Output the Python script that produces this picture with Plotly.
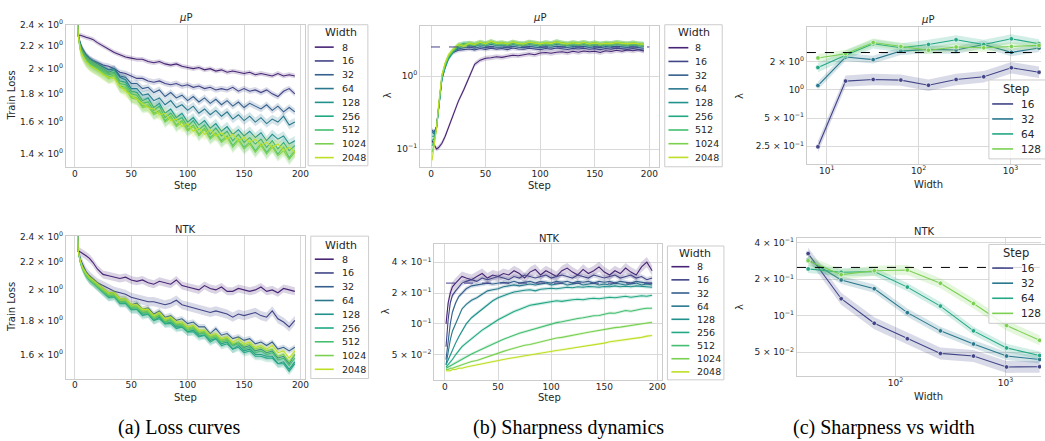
import plotly.graph_objects as go

W, H = 1045, 441

# ---------------- data ----------------
STEPS = [1, 3, 5, 7, 10, 13, 16, 20,
         25, 30, 35, 40, 45, 50, 55,
         60, 65, 70, 75, 80, 85, 90,
         95, 100, 105, 110, 115, 120, 125,
         130, 135, 140, 145, 150, 155, 160,
         165, 170, 175, 180, 185, 190, 195]
WIDTHS = [8, 16, 32, 64, 128, 256, 512, 1024, 2048]

# (a) top: muP train loss, one list per width
LOSS_MUP = [
    [2.90, 2.30, 2.30, 2.29, 2.28, 2.27, 2.26, 2.23,
     2.20, 2.17, 2.14, 2.12, 2.10, 2.09, 2.08,
     2.08, 2.06, 2.05, 2.06, 2.04, 2.03, 2.04,
     2.02, 2.01, 2.00, 2.01, 1.99, 2.00, 1.98,
     1.99, 1.97, 1.98, 1.97, 1.96, 1.97, 1.95,
     1.96, 1.95, 1.94, 1.96, 1.94, 1.95, 1.94],
    [2.90, 2.30, 2.22, 2.17, 2.12, 2.09, 2.07, 2.05,
     2.03, 2.02, 2.00, 1.97, 1.96, 1.94, 1.92,
     1.92, 1.90, 1.89, 1.90, 1.88, 1.87, 1.88,
     1.86, 1.87, 1.85, 1.86, 1.84, 1.85, 1.83,
     1.84, 1.83, 1.85, 1.82, 1.84, 1.82, 1.83,
     1.81, 1.83, 1.80, 1.78, 1.82, 1.84, 1.80],
    [2.90, 2.30, 2.21, 2.16, 2.11, 2.08, 2.06, 2.04,
     2.02, 1.99, 2.00, 1.94, 1.93, 1.88, 1.88,
     1.84, 1.85, 1.81, 1.83, 1.78, 1.81, 1.77,
     1.79, 1.75, 1.78, 1.74, 1.77, 1.73, 1.76,
     1.72, 1.75, 1.71, 1.74, 1.70, 1.73, 1.71,
     1.69, 1.72, 1.68, 1.71, 1.67, 1.70, 1.67],
    [2.90, 2.30, 2.20, 2.15, 2.10, 2.07, 2.05, 2.03,
     2.00, 1.97, 1.99, 1.93, 1.91, 1.84, 1.84,
     1.79, 1.80, 1.75, 1.77, 1.72, 1.75, 1.70,
     1.72, 1.68, 1.71, 1.66, 1.69, 1.65, 1.68,
     1.64, 1.67, 1.62, 1.65, 1.61, 1.64, 1.60,
     1.63, 1.59, 1.62, 1.60, 1.64, 1.58, 1.60],
    [2.90, 2.30, 2.19, 2.14, 2.09, 2.06, 2.04, 2.02,
     1.99, 1.96, 1.97, 1.90, 1.89, 1.82, 1.81,
     1.75, 1.77, 1.70, 1.73, 1.66, 1.69, 1.63,
     1.66, 1.60, 1.63, 1.58, 1.61, 1.56, 1.59,
     1.54, 1.57, 1.52, 1.55, 1.51, 1.54, 1.50,
     1.53, 1.48, 1.52, 1.49, 1.51, 1.46, 1.48],
    [2.90, 2.30, 2.18, 2.13, 2.08, 2.05, 2.03, 2.01,
     1.98, 1.95, 1.96, 1.88, 1.87, 1.80, 1.79,
     1.73, 1.74, 1.68, 1.71, 1.63, 1.66, 1.61,
     1.63, 1.57, 1.61, 1.55, 1.58, 1.52, 1.56,
     1.51, 1.54, 1.48, 1.52, 1.47, 1.50, 1.46,
     1.49, 1.44, 1.48, 1.43, 1.47, 1.42, 1.45],
    [2.90, 2.30, 2.17, 2.12, 2.07, 2.04, 2.02, 2.00,
     1.97, 1.93, 1.95, 1.86, 1.85, 1.78, 1.77,
     1.71, 1.72, 1.66, 1.68, 1.61, 1.64, 1.58,
     1.61, 1.55, 1.58, 1.52, 1.56, 1.50, 1.53,
     1.48, 1.51, 1.45, 1.49, 1.44, 1.47, 1.42,
     1.46, 1.41, 1.45, 1.40, 1.44, 1.38, 1.42],
    [2.90, 2.30, 2.16, 2.11, 2.06, 2.03, 2.01, 1.99,
     1.96, 1.92, 1.94, 1.85, 1.84, 1.77, 1.76,
     1.70, 1.71, 1.65, 1.67, 1.60, 1.63, 1.57,
     1.60, 1.54, 1.57, 1.51, 1.55, 1.49, 1.52,
     1.47, 1.50, 1.44, 1.48, 1.43, 1.46, 1.41,
     1.45, 1.40, 1.44, 1.39, 1.42, 1.37, 1.41],
    [2.90, 2.30, 2.16, 2.11, 2.06, 2.03, 2.01, 1.99,
     1.95, 1.93, 1.92, 1.86, 1.82, 1.79, 1.76,
     1.73, 1.70, 1.69, 1.65, 1.66, 1.61, 1.62,
     1.57, 1.59, 1.54, 1.56, 1.52, 1.55, 1.51,
     1.53, 1.49, 1.52, 1.48, 1.50, 1.47, 1.49,
     1.45, 1.47, 1.44, 1.46, 1.42, 1.44, 1.41],
]

# (a) bottom: NTK train loss
LOSS_NTK = [
    [2.90, 2.29, 2.28, 2.27, 2.25, 2.23, 2.20, 2.15,
     2.11, 2.10, 2.09, 2.08, 2.09, 2.07, 2.06,
     2.07, 2.05, 2.04, 2.06, 2.05, 2.04, 2.07,
     2.03, 2.02, 2.01, 2.00, 2.03, 2.01, 2.00,
     2.02, 1.99, 1.99, 2.01, 2.00, 1.99, 2.00,
     2.02, 1.99, 2.00, 1.98, 2.01, 2.00, 1.99],
    [2.90, 2.29, 2.22, 2.18, 2.13, 2.10, 2.08, 2.05,
     2.03, 2.01, 1.99, 1.98, 1.97, 1.95, 1.94,
     1.93, 1.92, 1.92, 1.91, 1.90, 1.91, 1.93,
     1.90, 1.89, 1.88, 1.87, 1.86, 1.85, 1.86,
     1.85, 1.84, 1.82, 1.84, 1.83, 1.84, 1.85,
     1.83, 1.82, 1.86, 1.81, 1.79, 1.76, 1.80],
    [2.90, 2.29, 2.22, 2.17, 2.12, 2.09, 2.07, 2.04,
     2.01, 1.98, 1.98, 1.94, 1.94, 1.90, 1.91,
     1.87, 1.88, 1.84, 1.86, 1.82, 1.83, 1.80,
     1.81, 1.78, 1.79, 1.76, 1.76, 1.72, 1.75,
     1.71, 1.72, 1.69, 1.70, 1.68, 1.69, 1.66,
     1.67, 1.65, 1.67, 1.63, 1.64, 1.62, 1.64],
    [2.90, 2.29, 2.21, 2.16, 2.11, 2.08, 2.06, 2.03,
     2.00, 1.96, 1.97, 1.92, 1.92, 1.88, 1.89,
     1.85, 1.86, 1.82, 1.83, 1.79, 1.81, 1.77,
     1.78, 1.75, 1.76, 1.72, 1.73, 1.70, 1.71,
     1.68, 1.69, 1.65, 1.67, 1.64, 1.65, 1.62,
     1.63, 1.61, 1.62, 1.58, 1.59, 1.55, 1.60],
    [2.90, 2.29, 2.21, 2.16, 2.11, 2.07, 2.05, 2.02,
     1.99, 1.95, 1.96, 1.91, 1.91, 1.87, 1.87,
     1.84, 1.84, 1.80, 1.82, 1.78, 1.79, 1.76,
     1.76, 1.73, 1.74, 1.71, 1.71, 1.68, 1.69,
     1.66, 1.67, 1.63, 1.65, 1.62, 1.63, 1.60,
     1.60, 1.59, 1.59, 1.55, 1.56, 1.52, 1.56],
    [2.90, 2.29, 2.20, 2.15, 2.10, 2.07, 2.05, 2.02,
     1.99, 1.95, 1.95, 1.91, 1.91, 1.87, 1.87,
     1.83, 1.84, 1.80, 1.81, 1.78, 1.78, 1.75,
     1.76, 1.73, 1.73, 1.70, 1.71, 1.67, 1.69,
     1.65, 1.66, 1.63, 1.64, 1.61, 1.62, 1.59,
     1.59, 1.58, 1.58, 1.55, 1.55, 1.51, 1.55],
    [2.90, 2.29, 2.20, 2.15, 2.10, 2.07, 2.05, 2.02,
     1.99, 1.96, 1.96, 1.92, 1.92, 1.88, 1.88,
     1.85, 1.85, 1.81, 1.83, 1.79, 1.80, 1.77,
     1.77, 1.74, 1.75, 1.72, 1.72, 1.69, 1.70,
     1.67, 1.68, 1.65, 1.66, 1.63, 1.64, 1.61,
     1.62, 1.60, 1.61, 1.57, 1.58, 1.54, 1.58],
    [2.90, 2.29, 2.20, 2.15, 2.11, 2.08, 2.06, 2.03,
     2.00, 1.97, 1.97, 1.93, 1.93, 1.89, 1.89,
     1.86, 1.86, 1.82, 1.84, 1.80, 1.81, 1.78,
     1.78, 1.75, 1.76, 1.73, 1.73, 1.70, 1.71,
     1.68, 1.69, 1.66, 1.67, 1.65, 1.66, 1.63,
     1.64, 1.62, 1.63, 1.59, 1.60, 1.56, 1.60],
    [2.90, 2.29, 2.21, 2.16, 2.12, 2.09, 2.07, 2.04,
     2.01, 1.98, 1.98, 1.94, 1.94, 1.90, 1.90,
     1.87, 1.87, 1.83, 1.85, 1.81, 1.82, 1.79,
     1.79, 1.76, 1.77, 1.74, 1.74, 1.71, 1.72,
     1.69, 1.70, 1.67, 1.69, 1.66, 1.67, 1.64,
     1.65, 1.63, 1.65, 1.61, 1.62, 1.58, 1.62],
]

# (b) top: muP sharpness over steps
SHARP_MUP = [
    [0.13, 0.115, 0.10, 0.105, 0.12, 0.15, 0.20, 0.28,
     0.45, 0.65, 1.00, 1.45, 1.65, 1.75, 1.78,
     1.84, 1.80, 1.87, 1.93, 1.90, 1.98, 2.02,
     1.96, 2.07, 2.10, 2.05, 2.12, 2.15, 2.08,
     2.18, 2.12, 2.20, 2.15, 2.18, 2.10, 2.22,
     2.17, 2.25, 2.19, 2.28, 2.22, 2.30, 2.20],
    [0.18, 0.17, 0.20, 0.36, 0.95, 1.40, 1.80, 2.10,
     2.25, 2.30, 2.35, 2.28, 2.38, 2.32, 2.40,
     2.34, 2.38, 2.30, 2.42, 2.35, 2.33, 2.40,
     2.36, 2.30, 2.38, 2.34, 2.42, 2.36, 2.31,
     2.39, 2.35, 2.40, 2.33, 2.37, 2.30, 2.38,
     2.34, 2.41, 2.36, 2.32, 2.38, 2.30, 2.25],
    [0.18, 0.17, 0.20, 0.37, 0.98, 1.45, 1.85, 2.18,
     2.35, 2.45, 2.50, 2.40, 2.52, 2.45, 2.55,
     2.48, 2.50, 2.44, 2.56, 2.48, 2.45, 2.55,
     2.50, 2.44, 2.52, 2.48, 2.57, 2.50, 2.46,
     2.53, 2.49, 2.55, 2.47, 2.52, 2.45, 2.53,
     2.49, 2.55, 2.50, 2.47, 2.52, 2.45, 2.40],
    [0.17, 0.16, 0.20, 0.36, 0.92, 1.35, 1.75, 2.15,
     2.45, 2.60, 2.65, 2.55, 2.68, 2.60, 2.72,
     2.62, 2.66, 2.58, 2.70, 2.62, 2.60, 2.70,
     2.64, 2.58, 2.66, 2.62, 2.72, 2.64, 2.60,
     2.67, 2.62, 2.70, 2.60, 2.66, 2.58, 2.66,
     2.62, 2.70, 2.64, 2.60, 2.66, 2.58, 2.55],
    [0.15, 0.15, 0.19, 0.35, 0.90, 1.30, 1.72, 2.12,
     2.55, 2.70, 2.78, 2.65, 2.80, 2.70, 2.85,
     2.72, 2.78, 2.68, 2.82, 2.72, 2.70, 2.82,
     2.75, 2.68, 2.78, 2.72, 2.85, 2.74, 2.70,
     2.78, 2.72, 2.80, 2.70, 2.76, 2.68, 2.76,
     2.72, 2.80, 2.74, 2.70, 2.76, 2.68, 2.65],
    [0.13, 0.14, 0.19, 0.36, 0.92, 1.35, 1.78, 2.18,
     2.60, 2.80, 2.72, 2.70, 2.85, 2.74, 2.92,
     2.76, 2.82, 2.72, 2.88, 2.76, 2.74, 2.88,
     2.80, 2.72, 2.84, 2.76, 2.95, 2.80, 2.74,
     2.84, 2.76, 2.86, 2.74, 2.82, 2.72, 2.80,
     2.76, 2.86, 2.78, 2.74, 2.82, 2.72, 2.70],
    [0.11, 0.13, 0.19, 0.38, 0.98, 1.42, 1.85, 2.22,
     2.65, 2.75, 2.80, 2.72, 2.88, 2.78, 2.95,
     2.80, 2.85, 2.75, 2.90, 2.80, 2.76, 2.90,
     2.82, 2.75, 2.86, 2.78, 2.92, 2.82, 2.76,
     2.86, 2.78, 2.88, 2.76, 2.84, 2.75, 2.82,
     2.78, 2.88, 2.80, 2.76, 2.84, 2.75, 2.72],
    [0.09, 0.12, 0.19, 0.40, 1.02, 1.48, 1.90, 2.28,
     2.70, 2.62, 2.85, 2.75, 2.92, 2.80, 2.98,
     2.82, 2.88, 2.78, 2.94, 2.82, 2.78, 2.92,
     2.84, 2.78, 2.88, 2.80, 2.95, 2.84, 2.78,
     2.88, 2.80, 2.90, 2.78, 2.86, 2.76, 2.84,
     2.80, 2.90, 2.82, 2.78, 2.86, 2.76, 2.74],
    [0.07, 0.11, 0.19, 0.42, 1.05, 1.52, 1.95, 2.30,
     2.70, 2.55, 2.80, 2.70, 2.90, 2.75, 3.00,
     2.80, 2.85, 2.75, 2.92, 2.78, 2.75, 2.90,
     2.82, 2.76, 2.85, 2.78, 2.95, 2.80, 2.75,
     2.85, 2.78, 2.88, 2.75, 2.84, 2.74, 2.80,
     2.78, 2.86, 2.80, 2.76, 2.82, 2.74, 2.70],
]

# (b) bottom: NTK sharpness over steps
SHARP_NTK = [
    [0.10, 0.16, 0.20, 0.23, 0.25, 0.27, 0.29, 0.28,
     0.27, 0.29, 0.31, 0.28, 0.30, 0.29, 0.31,
     0.30, 0.33, 0.31, 0.28, 0.32, 0.34, 0.30,
     0.33, 0.31, 0.29, 0.33, 0.35, 0.32, 0.30,
     0.34, 0.31, 0.33, 0.36, 0.32, 0.30, 0.33,
     0.31, 0.35, 0.32, 0.30, 0.36, 0.40, 0.33],
    [0.06, 0.11, 0.16, 0.19, 0.21, 0.23, 0.25, 0.26,
     0.27, 0.26, 0.28, 0.27, 0.28, 0.29, 0.28,
     0.27, 0.29, 0.28, 0.30, 0.29, 0.28, 0.29,
     0.30, 0.28, 0.29, 0.30, 0.29, 0.28, 0.30,
     0.29, 0.28, 0.30, 0.29, 0.28, 0.29, 0.30,
     0.28, 0.29, 0.30, 0.28, 0.29, 0.27, 0.28],
    [0.045, 0.07, 0.10, 0.13, 0.16, 0.185, 0.20, 0.22,
     0.235, 0.24, 0.245, 0.25, 0.245, 0.25, 0.255,
     0.25, 0.26, 0.25, 0.255, 0.26, 0.25, 0.26,
     0.255, 0.25, 0.26, 0.255, 0.26, 0.25, 0.26,
     0.255, 0.26, 0.25, 0.26, 0.255, 0.26, 0.25,
     0.26, 0.255, 0.25, 0.26, 0.255, 0.25, 0.25],
    [0.04, 0.055, 0.07, 0.085, 0.10, 0.12, 0.14, 0.155,
     0.17, 0.18, 0.195, 0.21, 0.215, 0.22, 0.23,
     0.235, 0.24, 0.235, 0.24, 0.245, 0.24, 0.245,
     0.25, 0.24, 0.245, 0.25, 0.24, 0.245, 0.25,
     0.24, 0.245, 0.25, 0.24, 0.245, 0.24, 0.25,
     0.245, 0.24, 0.245, 0.25, 0.24, 0.245, 0.24],
    [0.04, 0.045, 0.05, 0.055, 0.065, 0.075, 0.085, 0.10,
     0.115, 0.127, 0.14, 0.155, 0.168, 0.18, 0.19,
     0.197, 0.205, 0.21, 0.213, 0.215, 0.21, 0.218,
     0.22, 0.223, 0.22, 0.225, 0.228, 0.225, 0.23,
     0.228, 0.232, 0.23, 0.228, 0.232, 0.23, 0.235,
     0.23, 0.233, 0.23, 0.235, 0.232, 0.23, 0.228],
    [0.038, 0.04, 0.042, 0.045, 0.05, 0.055, 0.06, 0.065,
     0.072, 0.08, 0.087, 0.094, 0.102, 0.11, 0.117,
     0.125, 0.132, 0.138, 0.145, 0.152, 0.155, 0.158,
     0.16, 0.165, 0.168, 0.166, 0.17, 0.172, 0.174,
     0.172, 0.176, 0.178, 0.176, 0.18, 0.182, 0.18,
     0.183, 0.186, 0.182, 0.185, 0.188, 0.186, 0.19],
    [0.037, 0.038, 0.039, 0.04, 0.042, 0.044, 0.046, 0.048,
     0.051, 0.054, 0.057, 0.061, 0.064, 0.067, 0.071,
     0.074, 0.078, 0.081, 0.084, 0.087, 0.09, 0.094,
     0.097, 0.10, 0.103, 0.105, 0.108, 0.11, 0.113,
     0.115, 0.118, 0.12, 0.121, 0.125, 0.128, 0.127,
     0.131, 0.135, 0.133, 0.137, 0.14, 0.142, 0.142],
    [0.036, 0.036, 0.037, 0.037, 0.038, 0.039, 0.040, 0.041,
     0.043, 0.044, 0.046, 0.048, 0.050, 0.052, 0.054,
     0.056, 0.058, 0.060, 0.062, 0.063, 0.065, 0.067,
     0.069, 0.071, 0.073, 0.074, 0.076, 0.078, 0.080,
     0.081, 0.083, 0.085, 0.087, 0.088, 0.090, 0.092,
     0.093, 0.095, 0.097, 0.099, 0.100, 0.102, 0.104],
    [0.035, 0.035, 0.035, 0.036, 0.036, 0.037, 0.037, 0.038,
     0.039, 0.040, 0.041, 0.042, 0.043, 0.044, 0.045,
     0.046, 0.047, 0.048, 0.049, 0.050, 0.051, 0.052,
     0.053, 0.054, 0.055, 0.056, 0.057, 0.058, 0.060,
     0.061, 0.062, 0.063, 0.064, 0.065, 0.067, 0.068,
     0.069, 0.070, 0.072, 0.073, 0.074, 0.076, 0.077],
]

# (c) sharpness vs width at selected steps
SEL_STEPS = [16, 32, 64, 128]
C_WIDTHS_MUP = [8, 16, 32, 64, 128, 256, 512, 1024, 2048]
C_MUP = [
    [0.247, 1.24, 1.29, 1.27, 1.12, 1.29, 1.38, 1.72, 1.54],
    [1.11, 2.24, 2.10, 2.59, 2.70, 2.66, 3.05, 2.51, 2.79],
    [1.73, 2.34, 3.10, 2.81, 3.05, 3.42, 3.05, 3.50, 3.10],
    [2.19, 2.43, 3.20, 2.90, 2.64, 2.86, 2.81, 2.90, 2.98],
]
C_WIDTHS_NTK = [16, 32, 64, 128, 256, 512, 1024, 2048]
C_NTK = [
    [0.325, 0.138, 0.0866, 0.0646, 0.0489, 0.0465, 0.0378, 0.038],
    [0.289, 0.197, 0.167, 0.106, 0.075, 0.0585, 0.0465, 0.0436],
    [0.243, 0.228, 0.231, 0.172, 0.120, 0.075, 0.0543, 0.047],
    [0.284, 0.218, 0.235, 0.238, 0.185, 0.126, 0.083, 0.0627],
]

# relative half-widths of the shaded bands
BAND_LOSS_MUP = [0.010, 0.012, 0.014, 0.018, 0.020, 0.022, 0.025, 0.025, 0.025]
BAND_LOSS_NTK = [0.014, 0.016, 0.010, 0.012, 0.014, 0.014, 0.012, 0.010, 0.010]
BAND_SHARP_MUP = [0.08, 0.07, 0.07, 0.08, 0.08, 0.09, 0.08, 0.08, 0.08]
BAND_SHARP_NTK = [0.12, 0.06, 0.05, 0.04, 0.04, 0.04, 0.035, 0.03, 0.03]
BAND_C_MUP = [0.15, 0.10, 0.12, 0.10]
BAND_C_NTK = [0.12, 0.08, 0.08, 0.10]

THRESH_MUP = 2.5
THRESH_NTK = 0.25

# ---------------- style ----------------
VIRIDIS9 = ['#482475', '#414487', '#355f8d', '#2a788e', '#21918c',
            '#22a884', '#44bf70', '#7ad151', '#bddf26']
VIRIDIS4 = ['#414487', '#2a788e', '#22a884', '#7ad151']
FRAME = '#cccccc'
GRID = '#d9d9d9'
TXT = '#262626'
FONT = 'DejaVu Sans'


def rgba(hexc, a):
    h = hexc.lstrip('#')
    return 'rgba(%d,%d,%d,%.2f)' % (int(h[0:2], 16), int(h[2:4], 16), int(h[4:6], 16), a)


def sup(base, exp):
    return base + '10<sup>' + exp + '</sup>'


fig = go.Figure()


def add_series(xs, vals, rel, color, n, width=1.1, markers=False, falpha=0.2):
    xa, ya = 'x%d' % n, 'y%d' % n
    hi = [v * (1 + rel) for v in vals]
    lo = [v / (1 + rel) for v in vals]
    fig.add_trace(go.Scatter(x=xs, y=hi, mode='lines', line=dict(width=0, color=color),
                             xaxis=xa, yaxis=ya, hoverinfo='skip', showlegend=False))
    fig.add_trace(go.Scatter(x=xs, y=lo, mode='lines', line=dict(width=0, color=color),
                             fill='tonexty', fillcolor=rgba(color, falpha),
                             xaxis=xa, yaxis=ya, hoverinfo='skip', showlegend=False))
    if markers:
        fig.add_trace(go.Scatter(x=xs, y=vals, mode='lines+markers',
                                 line=dict(width=width, color=color),
                                 marker=dict(size=4.5, color=color, line=dict(color='white', width=0.6)),
                                 xaxis=xa, yaxis=ya, showlegend=False))
    else:
        fig.add_trace(go.Scatter(x=xs, y=vals, mode='lines', line=dict(width=width, color=color),
                                 xaxis=xa, yaxis=ya, showlegend=False))


# panel 1: a top, 2: b top, 3: c top, 4: a bottom, 5: b bottom, 6: c bottom
for i, w in enumerate(WIDTHS):
    add_series(STEPS, LOSS_MUP[i], BAND_LOSS_MUP[i], VIRIDIS9[i], 1)
    add_series(STEPS, LOSS_NTK[i], BAND_LOSS_NTK[i], VIRIDIS9[i], 4)
    add_series(STEPS, SHARP_MUP[i], BAND_SHARP_MUP[i], VIRIDIS9[i], 2)
    add_series(STEPS, SHARP_NTK[i], BAND_SHARP_NTK[i], VIRIDIS9[i], 5)

# reference (2/eta) lines in panel b
fig.add_trace(go.Scatter(x=[0, 200], y=[THRESH_MUP, THRESH_MUP], mode='lines',
                         line=dict(color='#46408a', width=1, dash='dash'),
                         xaxis='x2', yaxis='y2', showlegend=False))
fig.add_trace(go.Scatter(x=[STEPS[0], STEPS[-1]], y=[THRESH_NTK, THRESH_NTK], mode='lines',
                         line=dict(color='#46408a', width=1, dash='dash'),
                         xaxis='x5', yaxis='y5', showlegend=False))

for j, s in enumerate(SEL_STEPS):
    add_series(C_WIDTHS_MUP, C_MUP[j], BAND_C_MUP[j], VIRIDIS4[j], 3, markers=True)
    add_series(C_WIDTHS_NTK, C_NTK[j], BAND_C_NTK[j], VIRIDIS4[j], 6, markers=True)

shapes = []
for n, thr in ((3, THRESH_MUP), (6, THRESH_NTK)):
    shapes.append(dict(type='line', xref='x%d domain' % n, yref='y%d' % n, x0=0, x1=1,
                       y0=thr, y1=thr, line=dict(color='black', width=1, dash='dash'),
                       layer='above'))

# ---------------- axes ----------------
TICKFONT = dict(family=FONT, size=9, color=TXT)


def axis_pair(n, xpx, ypx, xtype, xrange, xtv, xtt, ytype, yrange, ytv, ytt, ygrid, ymirror=True):
    xa = dict(domain=[xpx[0] / W, xpx[1] / W], type=xtype, range=xrange,
              tickmode='array', tickvals=xtv, ticktext=xtt,
              showgrid=True, gridcolor=GRID, gridwidth=1, zeroline=False,
              showline=True, mirror=True, linecolor=FRAME, linewidth=1,
              ticks='', tickfont=TICKFONT, ticklabelstandoff=-2, anchor='y%d' % n)
    ya = dict(domain=[1 - ypx[1] / H, 1 - ypx[0] / H], type=ytype, range=yrange,
              tickmode='array', tickvals=ytv, ticktext=ytt,
              showgrid=ygrid, gridcolor=GRID, gridwidth=1, zeroline=False,
              showline=True, mirror=ymirror, linecolor=FRAME, linewidth=1,
              ticks='', tickfont=TICKFONT, anchor='x%d' % n)
    key = '' if n == 1 else str(n)
    fig.layout['xaxis' + key] = xa
    fig.layout['yaxis' + key] = ya


STEP_TV = [0, 50, 100, 150, 200]
STEP_TT = ['0', '50', '100', '150', '200']
LOSS_TV = [1.4, 1.6, 1.8, 2.0, 2.2, 2.4]
LOSS_TT = [sup('1.4 × ', '0'), sup('1.6 × ', '0'), sup('1.8 × ', '0'),
           sup('2 × ', '0'), sup('2.2 × ', '0'), sup('2.4 × ', '0')]
NTK_TV = [0.05, 0.1, 0.2, 0.4]
NTK_TT = [sup('5 × ', '−2'), sup('', '−1'), sup('2 × ', '−1'), sup('4 × ', '−1')]

axis_pair(1, (66, 306.5), (19, 163), 'linear', [-8, 204.3], STEP_TV, STEP_TT,
          'log', [0.123, 0.3807], LOSS_TV, LOSS_TT, False)
axis_pair(4, (66, 306.5), (233.3, 377.7), 'linear', [-8, 204.3], STEP_TV, STEP_TT,
          'log', [0.168, 0.3817], LOSS_TV, LOSS_TT, False)
axis_pair(2, (421.7, 661.7), (20, 163.3), 'linear', [-10, 209], STEP_TV, STEP_TT,
          'log', [-1.247, 0.689], [0.1, 1], [sup('', '−1'), sup('', '0')], True)
axis_pair(5, (436, 665), (241.7, 379), 'linear', [-10, 204.7], STEP_TV, STEP_TT,
          'log', [-1.545, -0.225], NTK_TV, NTK_TT, True)
axis_pair(3, (810, 1045), (21.7, 160), 'log', [0.783, 3.333], [10, 100, 1000],
          [sup('', '1'), sup('', '2'), sup('', '3')],
          'log', [-0.789, 0.666], [0.25, 0.5, 1, 2],
          [sup('2.5 × ', '−1'), sup('5 × ', '−1'), sup('', '0'), sup('2 × ', '0')], True, ymirror=False)
axis_pair(6, (800, 1045), (235, 375), 'log', [1.102, 3.324], [100, 1000],
          [sup('', '2'), sup('', '3')],
          'log', [-1.496, -0.358], NTK_TV, NTK_TT, True, ymirror=False)

# ---------------- text ----------------
annots = []


def text(t, x, y, size=10, angle=0, family=FONT, color=TXT, xanchor='center'):
    annots.append(dict(text=t, x=x / W, y=1 - y / H, xref='paper', yref='paper',
                       showarrow=False, xanchor=xanchor, yanchor='middle', textangle=angle,
                       borderpad=0, font=dict(family=family, size=size, color=color)))


for t, x, y in [('<i>μ</i>P', 186, 12), ('<i>μ</i>P', 541.7, 12), ('<i>μ</i>P', 931, 14),
                ('NTK', 186, 226.7), ('NTK', 551.7, 235.7), ('NTK', 928, 229)]:
    text(t, x, y)
for t, x, y in [('Step', 186, 182), ('Step', 541.7, 182), ('Width', 931.7, 181),
                ('Step', 186, 397), ('Step', 551.7, 397), ('Width', 931.7, 396)]:
    text(t, x, y)
for t, x, y in [('Train Loss', 11.7, 91), ('λ', 389, 91), ('λ', 743, 91),
                ('Train Loss', 11.7, 305.5), ('λ', 387, 310), ('λ', 743, 305)]:
    text(t, x, y, angle=-90)

text('(a) Loss curves', 180, 427, size=20, family='Liberation Serif', color='black')
text('(b) Sharpness dynamics', 571, 427, size=20, family='Liberation Serif', color='black')
text('(c) Sharpness vs width', 887, 427, size=20, family='Liberation Serif', color='black')


def legend(box, title, title_x, title_y, labels, colors, y0, dy, lx0, lx1, tx, fs, tfs):
    shapes.append(dict(type='rect', xref='paper', yref='paper',
                       x0=box[0] / W, x1=box[1] / W, y0=1 - box[3] / H, y1=1 - box[2] / H,
                       line=dict(color=FRAME, width=1), fillcolor='rgba(255,255,255,0.85)',
                       layer='above'))
    text(title, title_x, title_y, size=tfs)
    for k, (lab, c) in enumerate(zip(labels, colors)):
        yy = y0 + k * dy
        shapes.append(dict(type='line', xref='paper', yref='paper',
                           x0=lx0 / W, x1=lx1 / W, y0=1 - yy / H, y1=1 - yy / H,
                           line=dict(color=c, width=1.6), layer='above'))
        text(lab, tx, yy, size=fs, xanchor='left')


WLAB = [str(w) for w in WIDTHS]
SLAB = [str(s) for s in SEL_STEPS]
legend((309.3, 369.3, 19, 162), 'Width', 342, 26.7, WLAB, VIRIDIS9, 41.7, 14.0, 316, 335, 342, 9.5, 11)
legend((312, 370, 233.3, 377.7), 'Width', 342, 242.3, WLAB, VIRIDIS9, 256.7, 13.95, 316, 335, 342, 9.5, 11)
legend((667.3, 725, 19, 163), 'Width', 697, 26.7, WLAB, VIRIDIS9, 42.3, 13.9, 671, 691, 697, 9.5, 11)
legend((670, 726.7, 243.3, 379), 'Width', 698, 250.7, WLAB, VIRIDIS9, 264.3, 13.33, 674, 692, 699, 9.5, 11)
legend((992.7, 1050, 75, 155), 'Step', 1020, 84, SLAB, VIRIDIS4, 99.3, 15.2, 996, 1017, 1024, 10.5, 11.5)
legend((992.7, 1050, 241.7, 321.7), 'Step', 1020, 250, SLAB, VIRIDIS4, 265.7, 15.3, 996, 1017, 1024, 10.5, 11.5)

fig.update_layout(width=W, height=H, margin=dict(l=0, r=0, t=0, b=0),
                  paper_bgcolor='white', plot_bgcolor='white', showlegend=False,
                  annotations=annots, shapes=shapes,
                  font=dict(family=FONT, color=TXT))

fig.write_html('out.html', config={'displayModeBar': False},
               post_script="document.body.style.margin='0';document.body.style.overflow='hidden';")
